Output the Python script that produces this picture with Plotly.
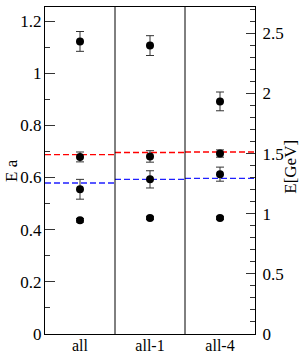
import plotly.graph_objects as go

categories = ["all", "all-1", "all-4"]
xpos = [0, 1, 2]

level1 = [1.122, 1.106, 0.892]
level1_err = [0.038, 0.038, 0.036]
level2 = [0.679, 0.681, 0.692]
level2_err = [0.019, 0.022, 0.014]
level3 = [0.555, 0.593, 0.613]
level3_err = [0.038, 0.033, 0.027]
level4 = [0.436, 0.445, 0.445]
level4_err = [0.007, 0.006, 0.006]

red_ref = [0.688, 0.696, 0.698]
blue_ref = [0.579, 0.593, 0.597]

ainv_gev = 2.168
ymax = 1.254

FONT = "Liberation Serif"
FS = 17

fig = go.Figure()


def seg(vals):
    xs, ys = [], []
    for i, v in enumerate(vals):
        xs += [i - 0.5, i + 0.5, None]
        ys += [v, v, None]
    return xs, ys


rx, ry = seg(red_ref)
bx, by = seg(blue_ref)
fig.add_trace(go.Scatter(x=rx, y=ry, mode="lines",
                         line=dict(color="#ff0000", width=1.3, dash="6px,3px"),
                         showlegend=False, hoverinfo="skip"))
fig.add_trace(go.Scatter(x=bx, y=by, mode="lines",
                         line=dict(color="#2020ff", width=1.3, dash="6px,3px"),
                         showlegend=False, hoverinfo="skip"))

for vals, errs in [(level1, level1_err), (level2, level2_err),
                   (level3, level3_err), (level4, level4_err)]:
    fig.add_trace(go.Scatter(
        x=xpos, y=vals, mode="markers",
        marker=dict(color="black", size=8, symbol="circle"),
        error_y=dict(type="data", array=errs, visible=True,
                     color="#333333", thickness=1, width=4),
        showlegend=False))

# dummy trace for right axis
fig.add_trace(go.Scatter(x=[None], y=[None], yaxis="y2", showlegend=False))

for xv in [0.5, 1.5]:
    fig.add_shape(type="line", xref="x", yref="paper", x0=xv, x1=xv, y0=0, y1=1,
                  line=dict(color="black", width=1))

fig.update_layout(
    width=302, height=354,
    margin=dict(l=45, r=47, t=7, b=20, autoexpand=False),
    paper_bgcolor="white", plot_bgcolor="white",
    font=dict(family=FONT, size=FS, color="black"),
    xaxis=dict(
        range=[-0.5, 2.5], tickvals=xpos, ticktext=categories,
        showgrid=False, zeroline=False, ticks="", automargin=False,
        showline=True, linecolor="black", linewidth=1, mirror=True,
        tickfont=dict(family=FONT, size=16),
        ticklabelstandoff=-3,
    ),
    yaxis=dict(
        range=[0, ymax], dtick=0.2, tick0=0, automargin=False,
        showgrid=False, zeroline=False,
        ticks="inside", ticklen=10, tickcolor="#333333", tickwidth=1,
        minor=dict(dtick=0.1, ticks="inside", ticklen=5, tickcolor="#333333", tickwidth=1, showgrid=False),
        showline=True, linecolor="black", linewidth=1,
        tickfont=dict(family=FONT, size=FS),
        ticklabelstandoff=-1,
    ),
    yaxis2=dict(
        range=[0, ymax * ainv_gev], dtick=0.5, tick0=0, automargin=False,
        overlaying="y", side="right",
        showgrid=False, zeroline=False,
        ticks="inside", ticklen=9, tickcolor="#333333", tickwidth=1,
        minor=dict(dtick=0.1, ticks="inside", ticklen=5, tickcolor="#333333", tickwidth=1, showgrid=False),
        showline=True, linecolor="black", linewidth=1,
        tickfont=dict(family=FONT, size=FS),
        ticklabelstandoff=3,
    ),
    annotations=[
        dict(text="E a", xref="paper", yref="paper", x=(0 - 45) / 210, y=0.5,
             xanchor="left", yanchor="middle", textangle=-90, showarrow=False,
             font=dict(family=FONT, size=FS)),
        dict(text="E[GeV]", xref="paper", yref="paper", x=(302 - 45) / 210, y=0.51,
             xanchor="right", yanchor="middle", textangle=-90, showarrow=False,
             font=dict(family=FONT, size=FS)),
    ],
)

fig.write_html("out.html", post_script="document.body.style.margin='0';",
               config={"displayModeBar": False})
